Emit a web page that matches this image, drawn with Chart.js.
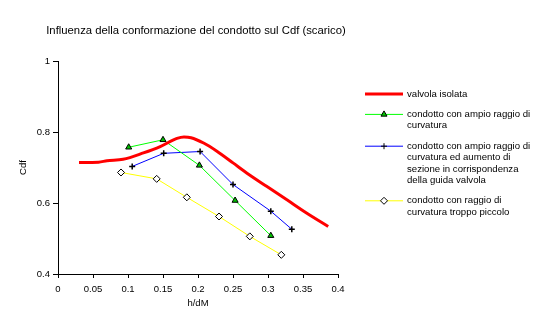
<!DOCTYPE html>
<html>
<head>
<meta charset="utf-8">
<script src="https://cdn.jsdelivr.net/npm/chart.js@4.4.1/dist/chart.umd.min.js"></script>
<style>
  html, body { margin: 0; padding: 0; background: #fff; }
  #wrap { width: 554px; height: 326px; position: relative; }
</style>
</head>
<body>
<div id="wrap"><canvas id="cdfChart" width="554" height="326"></canvas></div>
<script>
// --- Data ---
const chartTitle = 'Influenza della conformazione del condotto sul Cdf (scarico)';

const xTicks = [0, 0.05, 0.1, 0.15, 0.2, 0.25, 0.3, 0.35, 0.4];
const yTicks = [0.4, 0.6, 0.8, 1];

const isolataX = [0.03, 0.058, 0.07, 0.093, 0.122, 0.146, 0.17, 0.18, 0.19, 0.208, 0.227, 0.25, 0.27, 0.298, 0.327, 0.355, 0.386];
const isolataY = [0.714, 0.715, 0.719, 0.723, 0.741, 0.759, 0.782, 0.786, 0.784, 0.769, 0.746, 0.713, 0.684, 0.647, 0.609, 0.572, 0.534];

const ampioX = [0.101, 0.15, 0.202, 0.253, 0.304];
const ampioY = [0.757, 0.778, 0.706, 0.607, 0.508];

const sezioneX = [0.106, 0.151, 0.203, 0.25, 0.304, 0.334];
const sezioneY = [0.703, 0.740, 0.745, 0.652, 0.577, 0.526];

const piccoloX = [0.09, 0.141, 0.184, 0.23, 0.274, 0.319];
const piccoloY = [0.686, 0.668, 0.616, 0.562, 0.506, 0.454];

const seriesLabels = [
    ['valvola isolata'],
    ['condotto con ampio raggio di', 'curvatura'],
    ['condotto con ampio raggio di', 'curvatura ed aumento di', 'sezione in corrispondenza', 'della guida valvola'],
    ['condotto con raggio di', 'curvatura troppo piccolo']
];

const FONT = '"Liberation Sans", Arial, sans-serif';

function toPoints(xs, ys) {
    return xs.map((x, i) => ({ x: x, y: ys[i] }));
}

// --- Title + legend drawn on the canvas ---
const sideLegend = {
    id: 'sideLegend',
    afterDraw(chart) {
        const ctx = chart.ctx;
        ctx.save();
        ctx.fillStyle = '#000';
        ctx.font = '11.3px ' + FONT;
        ctx.textBaseline = 'middle';
        ctx.textAlign = 'center';
        ctx.fillText(chartTitle, 196, 31);

        ctx.font = '9.6px ' + FONT;
        ctx.textAlign = 'left';
        const lineX0 = 365, lineX1 = 403, textX = 407;
        const lineH = 11.4, gap = 9;
        let y = 94;
        chart.data.datasets.forEach((ds, i) => {
            ctx.strokeStyle = ds.borderColor;
            ctx.lineWidth = ds.borderWidth;
            ctx.beginPath();
            ctx.moveTo(lineX0, y);
            ctx.lineTo(lineX1, y);
            ctx.stroke();
            if (ds.pointRadius > 0) {
                ctx.fillStyle = ds.pointBackgroundColor;
                ctx.strokeStyle = ds.pointBorderColor;
                ctx.lineWidth = 1;
                Chart.helpers.drawPoint(ctx, {
                    pointStyle: ds.pointStyle, radius: ds.pointRadius, rotation: 0, borderWidth: 1
                }, (lineX0 + lineX1) / 2, y);
            }
            ctx.fillStyle = '#000';
            seriesLabels[i].forEach((txt, j) => ctx.fillText(txt, textX, y + j * lineH));
            y += seriesLabels[i].length * lineH + gap;
        });
        ctx.restore();
    }
};

const tickFont = { family: FONT, size: 9.5 };
const fmt = v => String(+Number(v).toFixed(2));

new Chart(document.getElementById('cdfChart').getContext('2d'), {
    type: 'line',
    data: {
        datasets: [{
            label: seriesLabels[0].join(' '),
            data: toPoints(isolataX, isolataY),
            borderColor: '#ff0000',
            borderWidth: 3,
            pointRadius: 0,
            cubicInterpolationMode: 'monotone'
        }, {
            label: seriesLabels[1].join(' '),
            data: toPoints(ampioX, ampioY),
            borderColor: '#00ff00',
            borderWidth: 1,
            pointStyle: 'triangle',
            pointRadius: 3.5,
            pointBackgroundColor: '#00c000',
            pointBorderColor: '#000',
            pointBorderWidth: 1
        }, {
            label: seriesLabels[2].join(' '),
            data: toPoints(sezioneX, sezioneY),
            borderColor: '#0000ff',
            borderWidth: 1,
            pointStyle: 'cross',
            pointRadius: 3,
            pointBackgroundColor: '#000',
            pointBorderColor: '#000',
            pointBorderWidth: 1.5
        }, {
            label: seriesLabels[3].join(' '),
            data: toPoints(piccoloX, piccoloY),
            borderColor: '#ffff00',
            borderWidth: 1,
            pointStyle: 'rectRot',
            pointRadius: 3.5,
            pointBackgroundColor: '#fff',
            pointBorderColor: '#000',
            pointBorderWidth: 1
        }]
    },
    options: {
        responsive: false,
        animation: false,
        layout: { padding: { top: 61, right: 216, bottom: 0, left: 0 } },
        plugins: {
            legend: { display: false },
            title: { display: false },
            tooltip: { enabled: false }
        },
        scales: {
            x: {
                type: 'linear',
                min: 0, max: 0.4,
                afterBuildTicks: s => { s.ticks = xTicks.map(v => ({ value: v })); },
                afterFit: s => { s.height = 52; },
                grid: { drawOnChartArea: false, color: '#000', tickLength: 4 },
                border: { color: '#000', width: 1 },
                ticks: { color: '#000', font: tickFont, padding: 6, maxRotation: 0, callback: fmt },
                title: { display: true, text: 'h/dM', color: '#000', font: tickFont, padding: { bottom: 17 } }
            },
            y: {
                type: 'linear',
                min: 0.4, max: 1,
                afterBuildTicks: s => { s.ticks = yTicks.map(v => ({ value: v })); },
                afterFit: s => { s.width = 58; },
                grid: { drawOnChartArea: false, color: '#000', tickLength: 5 },
                border: { color: '#000', width: 1 },
                ticks: { color: '#000', font: tickFont, padding: 3, callback: fmt },
                title: { display: true, text: 'Cdf', color: '#000', font: tickFont, padding: { top: 18 } }
            }
        }
    },
    plugins: [sideLegend]
});
</script>
</body>
</html>
